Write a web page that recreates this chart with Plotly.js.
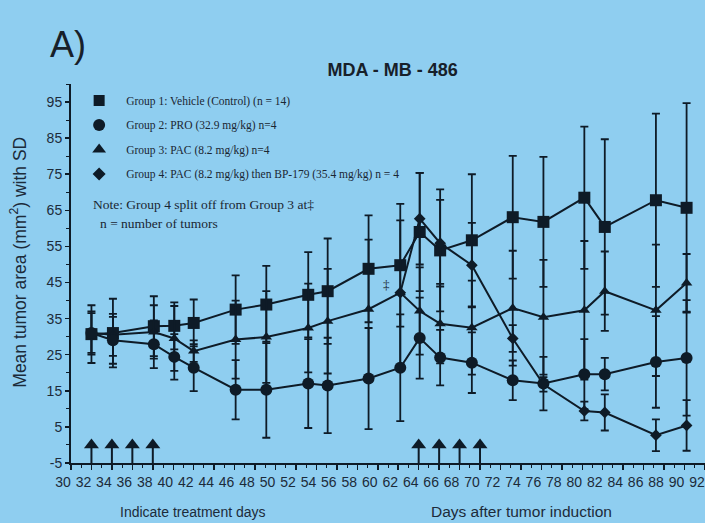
<!DOCTYPE html>
<html>
<head>
<meta charset="utf-8">
<script src="https://cdn.plot.ly/plotly-3.0.1.min.js"></script>
<style>html,body{margin:0;padding:0;background:#8fcef0;}#chart{width:705px;height:523px;}</style>
</head>
<body>
<div id="chart"></div>
<script>
// Days after tumor induction (measurement days)
const days = [32, 34.1, 38.1, 40.1, 42, 46.1, 49.1, 53.2, 55.1, 59.1, 62.2, 64.1, 66.1, 69.2, 73.2, 76.2, 80.2, 82.2, 87.2, 90.2];
const g1Mean = [30.7, 31.0, 32.9, 33.0, 33.8, 37.5, 38.9, 41.6, 42.6, 48.8, 49.8, 59.0, 53.9, 56.7, 63.1, 61.8, 68.5, 60.4, 67.8, 65.7];
const g1SD   = [8, 9.5, 8.3, 6.5, 6.5, 9.5, 10.7, 11.8, 14.6, 14.8, 17, 16.4, 16.9, 18.3, 17, 18, 19.7, 24.3, 24, 29];
const g2Mean = [31.0, 29.0, 27.9, 24.4, 21.4, 15.3, 15.3, 17.0, 16.5, 18.4, 21.4, 29.6, 24.2, 22.8, 17.9, 17.0, 19.6, 19.6, 23.0, 24.1];
const g2SD   = [5.5, 6.5, 6.6, 6.3, 6.5, 8.2, 13.3, 12.3, 13.2, 14, 14.8, 11.2, 7.7, 8.4, 5.5, 7.4, 9.7, 4.5, 12.7, 16];
const g3Mean = [31.0, 30.5, 31.3, 29.5, 26.0, 29.2, 29.9, 32.4, 34.3, 37.6, 42.2, 37.1, 33.6, 32.5, 37.9, 35.4, 37.3, 42.6, 37.3, 44.9];
const g3SD   = [6, 5.8, 7.4, 9, 3, 10.8, 12.7, 12.3, 14.5, 19.3, 20, 12.1, 11, 13, 15.9, 15.9, 19.2, 11, 18.2, 8];
const g4Days = [62.2, 64.1, 66.1, 69.2, 73.2, 76.2, 80.2, 82.2, 87.2, 90.2];
const g4Mean = [42.2, 62.7, 55.9, 49.8, 29.5, 16.8, 9.4, 9.0, 2.7, 5.4];
const g4SD   = [0, 12.7, 12, 11.7, 3.7, 2, 2.6, 5, 4.4, 7];
// Treatment days (arrows)
const treatDays = [32, 34, 36, 38, 64, 66, 68, 70];
const treatY    = [0, 0, 0, 0, 0, 0, 0, 0];
const treatTail = [5, 5, 5, 5, 5, 5, 5, 5];
const groupNames = [
  'Group 1: Vehicle (Control) (n = 14)',
  'Group 2: PRO (32.9 mg/kg) n=4',
  'Group 3: PAC (8.2 mg/kg) n=4',
  'Group 4: PAC (8.2 mg/kg) then BP-179 (35.4 mg/kg) n = 4'
];
const yTicks = [-5, 5, 15, 25, 35, 45, 55, 65, 75, 85, 95];

const ink = '#0e1b27';
const bg = '#8fcef0';

function series(x, y, sd, sym, size, name) {
  return {
    type: 'scatter', mode: 'lines+markers', x: x, y: y, name: name, showlegend: false,
    line: {color: ink, width: 2},
    marker: {symbol: sym, size: size, color: ink},
    error_y: {type: 'data', array: sd, visible: true, color: ink, thickness: 1.8, width: 4}
  };
}
function legendItem(sym, size, name, grp) {
  return {
    type: 'scatter', mode: 'markers', x: [null], y: [null], name: name, legendgroup: grp,
    marker: {symbol: sym, size: size, color: ink}
  };
}

const data = [
  series(days, g1Mean, g1SD, 'square', 12, groupNames[0]),
  series(days, g3Mean, g3SD, 'triangle-up', 10, groupNames[2]),
  series(days, g2Mean, g2SD, 'circle', 12, groupNames[1]),
  series(g4Days, g4Mean, g4SD, 'diamond', 9, groupNames[3]),
  {
    type: 'scatter', mode: 'markers', x: treatDays, y: treatY, showlegend: false,
    marker: {symbol: 'triangle-up', size: 13, color: ink},
    error_y: {type: 'data', symmetric: false, array: treatY, arrayminus: treatTail, visible: true, color: ink, thickness: 2, width: 0}
  },
  legendItem('square', 11, groupNames[0], 'a'),
  legendItem('circle', 12, groupNames[1], 'b'),
  legendItem('triangle-up', 12, groupNames[2], 'c'),
  legendItem('diamond', 10, groupNames[3], 'd')
];

const sans = 'Liberation Sans, Arial, sans-serif';
const serif = 'Liberation Serif, Times New Roman, serif';

const layout = {
  width: 705, height: 523,
  paper_bgcolor: bg, plot_bgcolor: bg,
  margin: {l: 70.5, r: 0, t: 84, b: 60, autoexpand: false},
  title: {text: 'MDA - MB - 486', font: {family: sans, size: 18, color: '#17202a', weight: 700},
          x: 0.557, xanchor: 'center', xref: 'container', y: 0.866, yanchor: 'middle', yref: 'container'},
  showlegend: true,
  legend: {x: 0.0018, y: 0.995, xanchor: 'left', yanchor: 'top', bgcolor: 'rgba(0,0,0,0)',
           font: {family: serif, size: 11.5, color: '#1a2633'}, tracegroupgap: 5.5, itemwidth: 44},
  xaxis: {
    range: [30, 92], tick0: 30, dtick: 2, tickmode: 'linear', ticks: 'outside', ticklen: 5, tickwidth: 1.5,
    tickcolor: ink, tickangle: 0, ticklabelshift: -8,
    minor: {dtick: 1, ticks: 'outside', ticklen: 3, tickcolor: ink, tickwidth: 1},
    showline: true, linecolor: ink, linewidth: 2, showgrid: false, zeroline: false,
    tickfont: {family: sans, size: 14, color: '#1c2b3a'}, automargin: false, fixedrange: true
  },
  yaxis: {
    range: [-5, 100], tickmode: 'array', tickvals: yTicks, ticktext: yTicks.map(String),
    ticks: 'outside', ticklen: 4, tickwidth: 1.5, tickcolor: ink,
    minor: {tickmode: 'linear', tick0: 0, dtick: 10, ticks: 'outside', ticklen: 3, tickcolor: ink, tickwidth: 1},
    showline: true, linecolor: ink, linewidth: 2, showgrid: false, zeroline: false,
    tickfont: {family: sans, size: 14, color: '#1c2b3a'}, automargin: false, fixedrange: true
  },
  annotations: [
    {text: 'A)', xref: 'paper', yref: 'paper', x: -0.036, y: 1.103, xanchor: 'left', yanchor: 'middle',
     showarrow: false, font: {family: sans, size: 36, color: '#17202a'}},
    {text: 'Mean tumor area (mm<sup>2</sup>) with SD', xref: 'paper', yref: 'paper', x: -0.0827, y: 0.53,
     xanchor: 'center', yanchor: 'middle', textangle: -90, showarrow: false, font: {family: sans, size: 17.5, color: '#1c2b3a'}},
    {text: 'Indicate treatment days', xref: 'paper', yref: 'paper', x: 0.193, y: -0.129, xanchor: 'center', yanchor: 'middle',
     showarrow: false, font: {family: sans, size: 14, color: '#1c2b3a'}},
    {text: 'Days after tumor induction', xref: 'paper', yref: 'paper', x: 0.711, y: -0.129, xanchor: 'center', yanchor: 'middle',
     showarrow: false, font: {family: sans, size: 15.5, color: '#1c2b3a'}},
    {text: 'Note: Group 4 split off from Group 3 at\u2021', xref: 'paper', yref: 'paper', x: 0.0318, y: 0.683, xanchor: 'left', yanchor: 'middle',
     showarrow: false, font: {family: serif, size: 13.5, color: '#1a2633'}},
    {text: 'n = number of tumors', xref: 'paper', yref: 'paper', x: 0.0433, y: 0.631, xanchor: 'left', yanchor: 'middle',
     showarrow: false, font: {family: serif, size: 13.5, color: '#1a2633'}},
    {text: '\u2021', xref: 'x', yref: 'y', x: 60.9, y: 44.4, showarrow: false, font: {family: serif, size: 13, color: '#1a2633'}}
  ]
};

Plotly.newPlot('chart', data, layout, {displayModeBar: false, staticPlot: true});
</script>
</body>
</html>
